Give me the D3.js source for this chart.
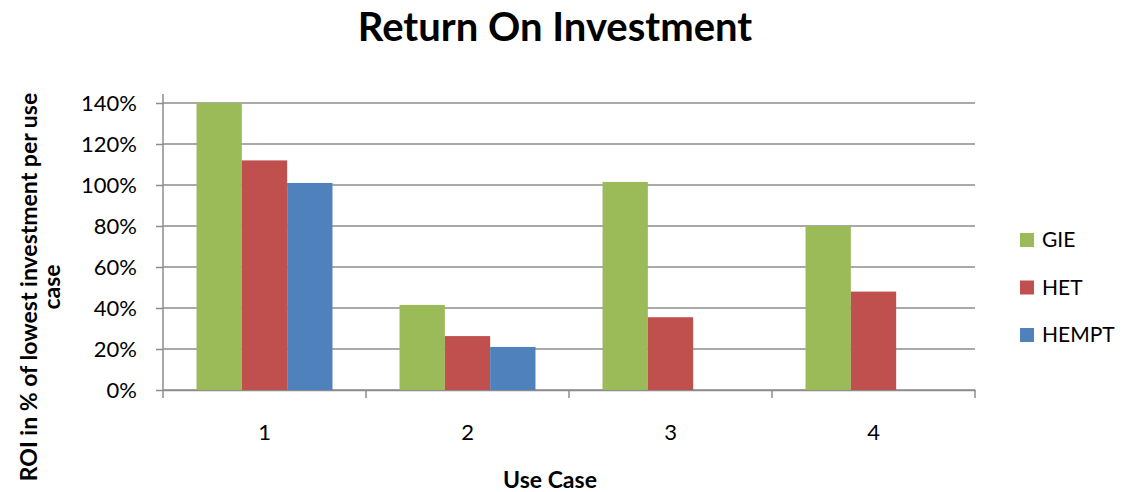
<!DOCTYPE html>
<html>
<head>
<meta charset="utf-8">
<script src="https://cdn.jsdelivr.net/npm/d3@7"></script>
<style>
  body { margin: 0; background: #fff; }
  text { font-family: Lato, "Open Sans", sans-serif; fill: #000; }
</style>
</head>
<body>
<svg id="chart" width="1122" height="492"></svg>
<script>
// data
let useCases = ['1', '2', '3', '4'];
let seriesNames = ['GIE', 'HET', 'HEMPT'];
let gieValues = [140, 41.5, 101.5, 80];
let hetValues = [112, 26.3, 35.5, 48];
let hemptValues = [101, 21, null, null];
let yTicks = [0, 20, 40, 60, 80, 100, 120, 140];
let colors = ['#9BBB59', '#C0504D', '#4F81BD'];

let svg = d3.select('#chart');
let m = {left: 163, right: 975, top: 103, bottom: 390};
let font = 'Lato, "Open Sans", sans-serif';

let x = d3.scaleBand().domain(useCases).range([m.left, m.right]).paddingInner(0).paddingOuter(0);
let xs = d3.scaleBand().domain(seriesNames).range([0, x.bandwidth()]).paddingInner(0).paddingOuter(0.74);
let y = d3.scaleLinear().domain([0, 140]).range([m.bottom, m.top]);

// gridlines
svg.append('g')
  .selectAll('line')
  .data(yTicks)
  .join('line')
  .attr('x1', m.left).attr('x2', m.right)
  .attr('y1', d=>y(d)).attr('y2', d=>y(d))
  .attr('stroke', '#8c8c8c')
  .attr('stroke-width', 1.5);

// y axis
let yAxis = svg.append('g')
  .attr('transform', `translate(${m.left},0)`)
  .call(d3.axisLeft(y).tickValues(yTicks).tickFormat(d=>d + '%').tickSize(7).tickPadding(19));
yAxis.select('.domain').attr('stroke', '#8c8c8c').attr('stroke-width', 1.5).attr('d', `M0,${m.top - 9}V${m.bottom}`);
yAxis.selectAll('.tick line').attr('stroke', '#8c8c8c').attr('stroke-width', 1.5);
yAxis.selectAll('.tick text').style('font-size', '22px').style('font-family', font).attr('fill', '#000');

// x axis
let xAxis = svg.append('g')
  .attr('transform', `translate(0,${m.bottom})`)
  .call(d3.axisBottom(x).tickSize(0).tickPadding(34));
xAxis.select('.domain').attr('stroke', '#8c8c8c').attr('stroke-width', 1.5);
xAxis.selectAll('.tick text').style('font-size', '22px').style('font-family', font).attr('fill', '#000');
xAxis.append('g')
  .selectAll('line')
  .data(d3.range(useCases.length + 1))
  .join('line')
  .attr('x1', i=>m.left + i * x.bandwidth()).attr('x2', i=>m.left + i * x.bandwidth())
  .attr('y1', 0).attr('y2', 8)
  .attr('stroke', '#8c8c8c').attr('stroke-width', 1.5);

// bars
let series = [gieValues, hetValues, hemptValues];
let barData = [];
useCases.forEach((c, i)=>{
  seriesNames.forEach((s, j)=>{
    if(series[j][i] != null) barData.push({c, s, v: series[j][i], color: colors[j]});
  });
});
svg.append('g')
  .selectAll('rect')
  .data(barData)
  .join('rect')
  .attr('x', d=>x(d.c) + xs(d.s))
  .attr('width', xs.bandwidth())
  .attr('y', d=>y(d.v))
  .attr('height', d=>y(0) - y(d.v))
  .attr('fill', d=>d.color);

// title
svg.append('text')
  .attr('x', 555).attr('y', 41)
  .attr('text-anchor', 'middle')
  .style('font-size', '40px').style('font-weight', 'bold')
  .text('Return On Investment');

// axis titles
svg.append('text')
  .attr('x', 550).attr('y', 488)
  .attr('text-anchor', 'middle')
  .style('font-size', '23px').style('font-weight', 'bold')
  .text('Use Case');

let yt = svg.append('text')
  .attr('transform', 'translate(37,287) rotate(-90)')
  .attr('text-anchor', 'middle')
  .style('font-size', '23px').style('font-weight', 'bold');
yt.append('tspan').attr('x', 0).attr('y', 0).text('ROI in % of lowest investment per use');
yt.append('tspan').attr('x', 0).attr('y', 23).text('case');

// legend
let legend = svg.append('g')
  .selectAll('g')
  .data(seriesNames)
  .join('g')
  .attr('transform', (d, i)=>`translate(1020,${240 + i * 47.5})`);
legend.append('rect')
  .attr('x', 0).attr('y', -7).attr('width', 14).attr('height', 14)
  .attr('fill', (d, i)=>colors[i]);
legend.append('text')
  .attr('x', 22).attr('y', 0).attr('dy', '0.35em')
  .style('font-size', '21px')
  .text(d=>d);
</script>
</body>
</html>
